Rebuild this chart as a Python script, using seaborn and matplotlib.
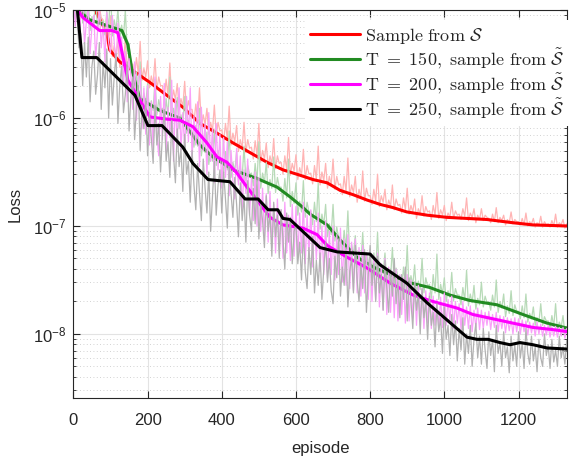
import numpy as np
import matplotlib
matplotlib.use("Agg")
import matplotlib.pyplot as plt
import seaborn as sns

# raw loss per episode (log10), sampled every 5 episodes
episodes = np.arange(0, 1335, 5)

red_raw = [
    -4.64, -4.77, -4.61, -4.77, -4.48, -4.86, -4.77, -4.86, -4.73, -4.98, -4.89, -4.98, -4.76, -5.07, -4.97, -5.07, -5.09, -5.22, -5.07, -5.30,
    -5.06, -5.43, -5.33, -5.42, -5.28, -5.53, -5.42, -5.50, -5.26, -5.54, -5.42, -5.51, -5.50, -5.61, -5.44, -5.59, -5.29, -5.65, -5.54, -5.62,
    -5.47, -5.72, -5.61, -5.69, -5.45, -5.74, -5.62, -5.70, -5.70, -5.81, -5.64, -5.79, -5.49, -5.85, -5.74, -5.83, -5.68, -5.92, -5.82, -5.90,
    -5.66, -5.95, -5.84, -5.92, -5.92, -6.04, -5.87, -6.02, -5.72, -6.08, -5.97, -6.06, -5.91, -6.15, -6.04, -6.12, -5.88, -6.16, -6.04, -6.12,
    -6.11, -6.22, -6.05, -6.19, -5.89, -6.25, -6.14, -6.22, -6.07, -6.31, -6.20, -6.28, -6.04, -6.32, -6.20, -6.28, -6.27, -6.38, -6.21, -6.35,
    -6.05, -6.41, -6.30, -6.38, -6.23, -6.46, -6.35, -6.43, -6.19, -6.47, -6.35, -6.42, -6.41, -6.52, -6.35, -6.48, -6.18, -6.53, -6.42, -6.49,
    -6.34, -6.57, -6.46, -6.53, -6.29, -6.57, -6.44, -6.52, -6.51, -6.61, -6.44, -6.57, -6.26, -6.62, -6.50, -6.58, -6.42, -6.65, -6.54, -6.62,
    -6.38, -6.66, -6.54, -6.62, -6.61, -6.71, -6.54, -6.68, -6.37, -6.73, -6.62, -6.69, -6.54, -6.78, -6.66, -6.74, -6.49, -6.77, -6.65, -6.72,
    -6.72, -6.80, -6.66, -6.77, -6.52, -6.82, -6.72, -6.78, -6.66, -6.85, -6.76, -6.82, -6.62, -6.85, -6.75, -6.81, -6.80, -6.88, -6.74, -6.85,
    -6.65, -6.89, -6.81, -6.87, -6.75, -6.93, -6.84, -6.89, -6.72, -6.91, -6.82, -6.87, -6.86, -6.94, -6.81, -6.90, -6.69, -6.93, -6.85, -6.90,
    -6.81, -6.95, -6.88, -6.92, -6.78, -6.93, -6.86, -6.90, -6.89, -6.94, -6.84, -6.91, -6.74, -6.95, -6.88, -6.92, -6.84, -6.97, -6.90, -6.94,
    -6.84, -6.95, -6.90, -6.92, -6.93, -6.97, -6.89, -6.96, -6.83, -6.97, -6.92, -6.95, -6.90, -6.99, -6.94, -6.97, -6.87, -6.98, -6.94, -6.96,
    -6.96, -6.99, -6.93, -6.99, -6.88, -7.00, -6.96, -6.98, -6.93, -7.01, -6.97, -6.99, -6.91, -7.01, -6.96, -6.99, -6.98, -7.01, -6.95, -7.00,
    -6.89, -7.01, -6.97, -6.99, -6.94, -7.02, -6.98,
]

green_raw = [
    -4.94, -5.08, -4.88, -5.05, -4.69, -5.12, -4.98, -5.09, -4.90, -5.19, -5.06, -5.14, -4.85, -5.18, -5.03, -5.12, -5.10, -5.23, -5.01, -5.18,
    -4.81, -5.24, -5.09, -5.19, -4.99, -5.28, -5.14, -5.26, -5.00, -5.38, -5.31, -5.49, -5.55, -5.73, -5.57, -5.79, -5.48, -5.91, -5.77, -5.87,
    -5.68, -5.97, -5.84, -5.93, -5.64, -5.97, -5.83, -5.92, -5.91, -6.03, -5.82, -5.99, -5.62, -6.05, -5.91, -6.00, -5.81, -6.10, -5.97, -6.07,
    -5.80, -6.14, -6.02, -6.12, -6.12, -6.27, -6.07, -6.26, -5.91, -6.35, -6.21, -6.32, -6.13, -6.43, -6.30, -6.40, -6.11, -6.44, -6.30, -6.39,
    -6.38, -6.51, -6.31, -6.48, -6.12, -6.55, -6.41, -6.50, -6.31, -6.59, -6.46, -6.55, -6.26, -6.58, -6.44, -6.52, -6.51, -6.63, -6.42, -6.59,
    -6.22, -6.65, -6.51, -6.60, -6.41, -6.70, -6.57, -6.65, -6.36, -6.69, -6.55, -6.64, -6.64, -6.77, -6.56, -6.74, -6.38, -6.82, -6.68, -6.79,
    -6.60, -6.90, -6.77, -6.87, -6.58, -6.92, -6.78, -6.87, -6.86, -6.99, -6.78, -6.96, -6.60, -7.03, -6.89, -6.99, -6.80, -7.10, -6.98, -7.08,
    -6.80, -7.14, -7.01, -7.11, -7.10, -7.24, -7.04, -7.22, -6.86, -7.30, -7.17, -7.27, -7.09, -7.39, -7.26, -7.35, -7.06, -7.39, -7.25, -7.35,
    -7.34, -7.46, -7.25, -7.42, -7.06, -7.49, -7.35, -7.44, -7.25, -7.54, -7.41, -7.49, -7.20, -7.53, -7.39, -7.47, -7.46, -7.59, -7.38, -7.54,
    -7.18, -7.60, -7.46, -7.55, -7.36, -7.64, -7.51, -7.59, -7.30, -7.62, -7.48, -7.56, -7.54, -7.67, -7.45, -7.62, -7.26, -7.68, -7.54, -7.63,
    -7.48, -7.70, -7.60, -7.66, -7.43, -7.69, -7.58, -7.64, -7.64, -7.73, -7.57, -7.69, -7.41, -7.74, -7.63, -7.71, -7.55, -7.77, -7.67, -7.73,
    -7.52, -7.75, -7.65, -7.71, -7.70, -7.78, -7.64, -7.75, -7.50, -7.80, -7.70, -7.76, -7.63, -7.84, -7.74, -7.81, -7.60, -7.83, -7.73, -7.79,
    -7.79, -7.86, -7.74, -7.85, -7.63, -7.89, -7.81, -7.86, -7.75, -7.92, -7.85, -7.89, -7.72, -7.92, -7.84, -7.88, -7.88, -7.95, -7.83, -7.93,
    -7.72, -7.97, -7.89, -7.94, -7.83, -8.00, -7.93,
]

magenta_raw = [
    -4.85, -5.15, -4.95, -5.28, -5.05, -4.92, -5.32, -5.10, -4.98, -5.40, -5.15, -5.05, -5.45, -5.20, -4.98, -5.35, -5.12, -5.48, -5.02, -5.30,
    -5.40, -5.05, -5.30, -5.52, -5.12, -5.45, -5.25, -5.70, -5.38, -5.85, -5.45, -5.60, -5.92, -5.48, -6.02, -5.62, -5.55, -6.10, -5.72, -6.15,
    -5.70, -6.25, -5.85, -6.30, -5.62, -6.15, -6.35, -5.80, -6.20, -5.68, -6.32, -5.90, -6.18, -5.65, -6.40, -5.82, -6.25, -5.72, -6.30, -5.95,
    -6.30, -5.80, -6.22, -5.72, -6.38, -5.98, -6.25, -5.85, -6.45, -5.90, -6.30, -6.05, -6.52, -5.95, -6.40, -6.10, -6.60, -6.05, -6.48, -6.15,
    -6.65, -6.18, -6.55, -6.22, -6.72, -6.30, -6.58, -6.75, -6.28, -6.62, -6.35, -6.85, -6.48, -6.70, -6.38, -6.90, -6.55, -6.95, -6.50, -7.00,
    -6.55, -7.05, -6.65, -7.10, -6.70, -7.15, -6.68, -7.20, -6.80, -7.25, -6.75, -7.22, -6.85, -7.30, -6.78, -7.25, -6.90, -7.32, -6.80, -7.28,
    -6.82, -7.30, -6.88, -7.25, -6.78, -7.35, -6.90, -7.28, -6.85, -7.38, -6.95, -7.32, -6.88, -7.42, -7.00, -7.45, -6.95, -7.48, -7.05, -7.45,
    -7.00, -7.50, -7.08, -7.45, -7.02, -7.52, -7.12, -7.55, -7.08, -7.58, -7.15, -7.60, -7.12, -7.62, -7.20, -7.65, -7.18, -7.62, -7.25, -7.68,
    -7.22, -7.70, -7.28, -7.68, -7.25, -7.75, -7.35, -7.78, -7.30, -7.82, -7.38, -7.80, -7.42, -7.85, -7.40, -7.88, -7.45, -7.82, -7.48, -7.90,
    -7.45, -7.88, -7.50, -7.85, -7.52, -7.92, -7.55, -7.88, -7.58, -7.95, -7.60, -7.90, -7.62, -7.95, -7.65, -7.92, -7.68, -7.96, -7.66, -7.94,
    -7.62, -7.92, -7.68, -7.88, -7.65, -7.95, -7.70, -7.90, -7.72, -7.96, -7.70, -7.92, -7.75, -7.95, -7.74, -7.98, -7.78, -7.94, -7.76, -7.96,
    -7.78, -7.95, -7.80, -7.92, -7.79, -7.96, -7.82, -7.94, -7.80, -7.98, -7.83, -7.95, -7.84, -7.99, -7.85, -7.97, -7.86, -8.00, -7.85, -7.98,
    -7.86, -8.00, -7.87, -7.98, -7.88, -8.01, -7.89, -7.99, -7.90, -8.02, -7.89, -8.00, -7.91, -8.02, -7.92, -8.01, -7.92, -8.03, -7.93, -8.02,
    -7.93, -8.03, -7.94, -8.02, -7.94, -8.04, -7.95,
]

gray_raw = [
    -4.70, -4.95, -5.05, -5.35, -5.22, -5.70, -5.30, -5.62, -5.25, -5.85, -5.52, -5.38, -5.78, -5.60, -5.30, -5.92, -5.48, -5.72, -5.36, -6.00,
    -5.45, -5.88, -5.62, -5.40, -6.05, -5.70, -5.52, -5.95, -5.78, -5.48, -6.12, -5.80, -5.62, -6.20, -5.90, -5.70, -6.30, -5.88, -6.10, -5.82,
    -6.35, -5.95, -6.18, -6.42, -5.88, -6.25, -6.05, -6.50, -6.15, -5.92, -6.40, -6.22, -6.55, -6.02, -6.35, -6.60, -6.10, -6.45, -6.28, -6.68,
    -6.15, -6.52, -6.40, -6.78, -6.30, -6.62, -6.85, -6.42, -6.70, -6.95, -6.38, -6.65, -6.88, -6.50, -7.05, -6.72, -6.40, -6.90, -6.62, -6.48,
    -6.88, -6.50, -6.75, -7.02, -6.45, -6.70, -6.92, -6.55, -6.80, -7.10, -6.60, -6.95, -6.72, -7.15, -6.58, -6.90, -7.05, -6.65, -6.98, -6.55,
    -7.12, -6.80, -6.95, -7.20, -6.72, -7.05, -6.88, -7.28, -6.78, -7.10, -6.90, -7.30, -6.85, -7.12, -7.40, -6.88, -7.15, -6.92, -7.35, -7.05,
    -6.98, -7.35, -7.15, -7.50, -7.05, -7.42, -7.58, -7.20, -7.45, -7.10, -7.62, -7.32, -7.55, -7.25, -7.68, -7.40, -7.15, -7.52, -7.30, -7.60,
    -7.72, -7.28, -7.48, -7.12, -7.65, -7.38, -7.55, -7.20, -7.75, -7.42, -7.30, -7.62, -7.18, -7.50, -7.70, -7.35, -7.58, -7.22, -7.80, -7.45,
    -7.18, -7.55, -7.35, -7.70, -7.28, -7.62, -7.45, -7.78, -7.32, -7.58, -7.80, -7.40, -7.65, -7.30, -7.72, -7.50, -7.85, -7.45, -7.68, -7.38,
    -7.88, -7.48, -7.70, -7.95, -7.52, -7.78, -7.62, -8.00, -7.58, -7.85, -7.70, -8.05, -7.65, -7.92, -7.80, -8.12, -7.72, -7.98, -7.85, -8.18,
    -7.75, -8.05, -7.92, -8.20, -7.82, -8.10, -7.88, -8.25, -7.95, -8.15, -7.85, -8.28, -8.00, -8.18, -7.92, -8.30, -8.05, -7.90, -8.22, -8.02,
    -8.28, -7.95, -8.15, -8.32, -7.98, -8.20, -8.05, -8.35, -7.92, -8.18, -8.08, -8.30, -7.98, -8.22, -8.12, -8.36, -8.02, -8.25, -8.10, -8.30,
    -7.98, -8.22, -8.08, -8.32, -7.95, -8.18, -8.28, -8.02, -8.25, -8.12, -8.35, -8.05, -8.22, -8.30, -8.00, -8.20, -8.10, -8.32, -8.05, -8.26,
    -8.15, -8.30, -8.02, -8.22, -8.12, -8.28, -8.06,
]

# smoothed curves (episode, log10 loss)
red_ep = [0, 58, 90, 98, 125, 160, 206, 252, 295, 341, 387, 430, 476, 522,
          565, 611, 646, 684, 719, 754, 792, 827, 862, 899, 954, 1007, 1061,
          1115, 1185, 1239, 1331]
red_log = [-4.70, -5.00, -5.21, -5.37, -5.48, -5.56, -5.67, -5.79, -5.90,
           -6.05, -6.14, -6.23, -6.32, -6.41, -6.48, -6.53, -6.57, -6.60,
           -6.67, -6.71, -6.76, -6.80, -6.83, -6.87, -6.90, -6.92, -6.93,
           -6.94, -6.97, -6.99, -7.00]

green_ep = [0, 26, 44, 131, 147, 158, 179, 233, 287, 341, 376, 430, 495, 549,
            584, 616, 638, 684, 719, 765, 808, 854, 899, 961, 1015, 1069,
            1142, 1212, 1277, 1336]
green_log = [-4.95, -5.04, -5.09, -5.19, -5.32, -5.56, -5.82, -5.93, -6.00,
             -6.25, -6.36, -6.48, -6.56, -6.64, -6.73, -6.82, -6.89, -6.99,
             -7.13, -7.29, -7.38, -7.45, -7.52, -7.57, -7.64, -7.69, -7.73,
             -7.82, -7.90, -7.95]

magenta_ep = [0, 26, 71, 104, 120, 147, 206, 252, 287, 322, 360, 387, 414,
              441, 468, 495, 530, 565, 619, 657, 684, 738, 792, 854, 916, 970,
              1034, 1077, 1131, 1185, 1239, 1293, 1334]
magenta_log = [-4.95, -5.07, -5.19, -5.19, -5.21, -5.65, -5.99, -6.01, -6.02,
               -6.08, -6.23, -6.36, -6.41, -6.51, -6.64, -6.76, -6.92, -6.99,
               -7.02, -7.08, -7.18, -7.29, -7.39, -7.53, -7.64, -7.70, -7.76,
               -7.82, -7.86, -7.90, -7.94, -7.96, -7.98]

black_ep = [0, 23, 63, 166, 201, 239, 295, 322, 363, 422, 463, 498, 525, 551,
            565, 584, 665, 711, 800, 827, 899, 953, 1007, 1061, 1088, 1118,
            1150, 1177, 1204, 1239, 1277, 1331]
black_log = [-4.60, -5.44, -5.44, -5.79, -6.07, -6.07, -6.27, -6.42, -6.57,
             -6.59, -6.75, -6.75, -6.85, -6.85, -6.93, -6.94, -7.20, -7.24,
             -7.26, -7.36, -7.53, -7.71, -7.87, -8.03, -8.05, -8.05, -8.08,
             -8.10, -8.08, -8.10, -8.13, -8.14]

labels = [
    r"$\mathrm{Sample\ from}\ \mathcal{S}$",
    r"$\mathrm{T\ =\ 150,\ sample\ from}\ \tilde{\mathcal{S}}$",
    r"$\mathrm{T\ =\ 200,\ sample\ from}\ \tilde{\mathcal{S}}$",
    r"$\mathrm{T\ =\ 250,\ sample\ from}\ \tilde{\mathcal{S}}$",
]


def to_loss(vals):
    return 10.0 ** np.asarray(vals, dtype=float)


sns.set_style("ticks")
plt.rcParams["font.family"] = ["Liberation Sans", "DejaVu Sans"]
plt.rcParams["mathtext.fontset"] = "cm"

fig = plt.figure(figsize=(5.69, 4.58), dpi=100)
ax = fig.add_axes([0.129, 0.131, 0.867, 0.847])

series = [
    (red_raw, red_ep, red_log, "#ff0000", "#ffb4b4", labels[0]),
    (green_raw, green_ep, green_log, "#228b22", "#b7dab7", labels[1]),
    (magenta_raw, magenta_ep, magenta_log, "#ff00ff", "#f9a0f9", labels[2]),
    (gray_raw, black_ep, black_log, "#000000", "#b2b2b2", labels[3]),
]

for raw, ep, lg, color, light, label in series:
    sns.lineplot(x=episodes, y=to_loss(raw), color=light, lw=0.9, ax=ax,
                 legend=False)
    sns.lineplot(x=ep, y=to_loss(lg), color=color, lw=2.2, ax=ax, label=label)

ax.set_yscale("log")
ax.set_ylim(2.55e-9, 1e-5)
ax.set_xlim(0, 1330)
ax.set_xticks(np.arange(0, 1201, 200))

ax.set_axisbelow(True)
ax.grid(True, which="major", color="#e3e3e3", lw=0.8, ls="-")
ax.grid(True, which="minor", axis="y", color="#c4c4c4", lw=0.6, ls=(0, (1, 3)))

ax.tick_params(which="both", direction="in", top=True, right=True,
               colors="#262626", labelsize=12)
ax.tick_params(which="major", length=5, width=0.8)
ax.tick_params(which="minor", length=2.5, width=0.6)
ax.tick_params(axis="x", pad=11)
ax.tick_params(axis="y", pad=5)
for sp in ax.spines.values():
    sp.set_color("#262626")
    sp.set_linewidth(0.8)

ax.set_xlabel("episode", fontsize=12, color="#262626")
ax.set_ylabel("Loss", fontsize=12, color="#262626")
ax.xaxis.set_label_coords(0.5, -0.11)
ax.yaxis.set_label_coords(-0.102, 0.5)

leg = ax.legend(loc="upper left", bbox_to_anchor=(0.469, 0.974),
                borderaxespad=0, frameon=True, fancybox=False,
                facecolor="white", framealpha=1, fontsize=13,
                handlelength=2.75, handletextpad=0.28, labelspacing=0.05,
                borderpad=0.3)
leg.get_frame().set_linewidth(0)

fig.savefig("out.png", dpi=100)
